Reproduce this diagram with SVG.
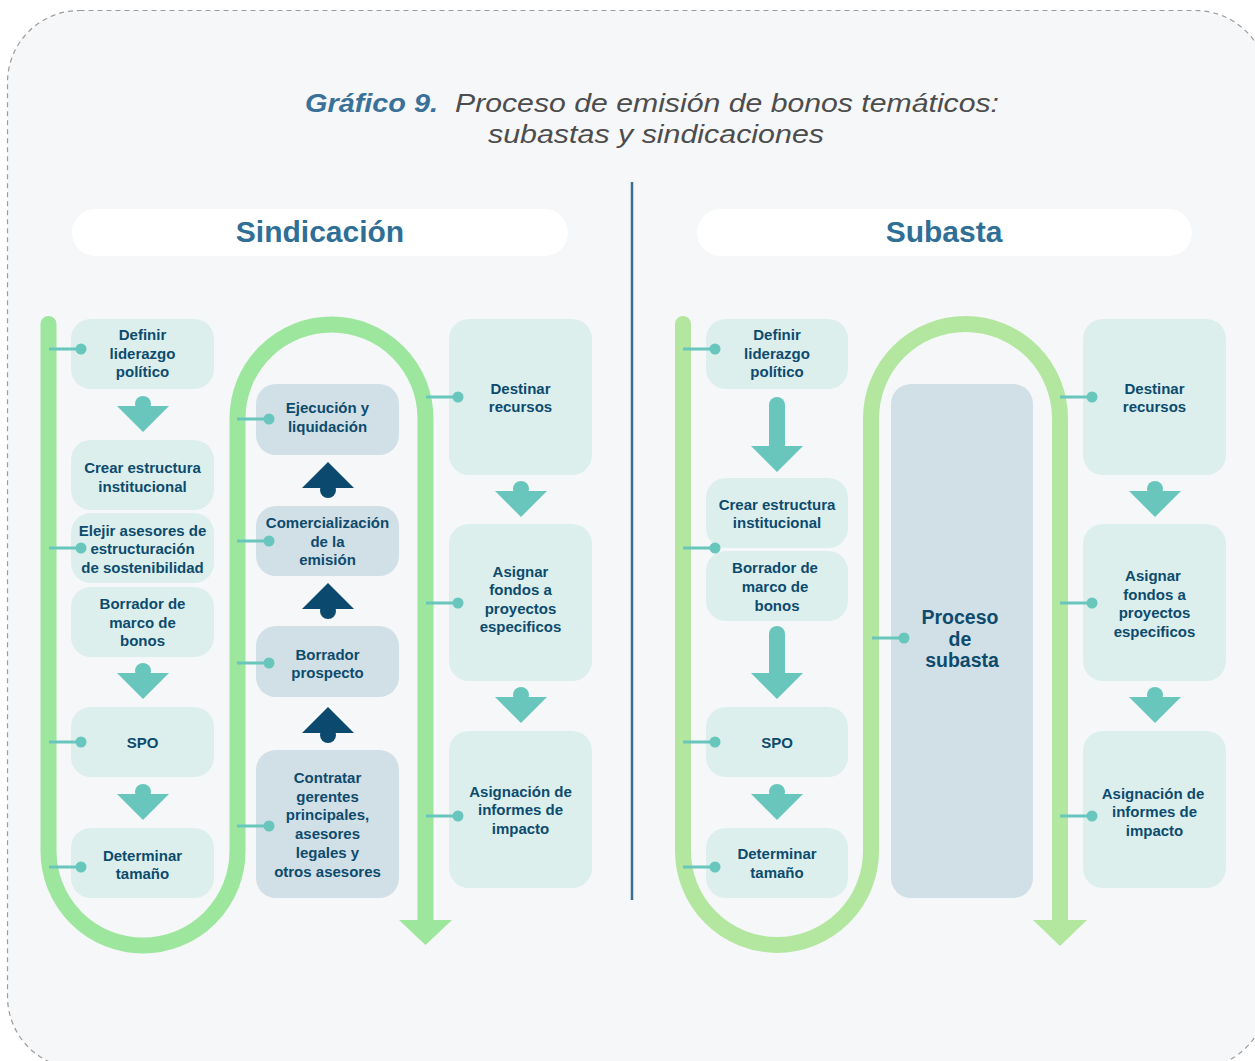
<svg xmlns="http://www.w3.org/2000/svg" xmlns:xlink="http://www.w3.org/1999/xlink" width="1255" height="1061" viewBox="0 0 1255 1061">
  <style>
    .frame { fill: #f5f7f9; stroke: #9c9c9c; stroke-width: 1.2; stroke-dasharray: 5 4; }
    .pill { fill: #ffffff; }
    .head { font-family: "Liberation Sans", Arial, sans-serif; font-weight: 700; font-size: 30px; fill: #2f6f96; text-anchor: middle; }
    .ttl { font-family: "Liberation Sans", Arial, sans-serif; font-style: italic; font-size: 26px; }
    .n1 { fill: #dcefed; }
    .n2 { fill: #d1dfe6; }
    .t { font-family: "Liberation Sans", Arial, sans-serif; font-weight: 700; font-size: 15px; fill: #0d4b6e; text-anchor: middle; }
    .big { font-size: 19.5px; }
    .trackA { fill: none; stroke: #9de69e; stroke-width: 16; stroke-linecap: round; }
    .trackB { fill: none; stroke: #b3e7a0; stroke-width: 16; stroke-linecap: round; }
    .headA { fill: #9de69e; }
    .headB { fill: #b3e7a0; }
    .conn line { stroke: #68c6bc; stroke-width: 3; }
    .conn circle { fill: #68c6bc; }
    .dn { fill: #68c6bc; }
    .up { fill: #0b4a6e; }
    .shaft { stroke: #68c6bc; stroke-width: 16; stroke-linecap: round; }
  </style>
  <defs>
    <!-- step arrow pointing down: triangle top edge at y=0 with a round nub above -->
    <g id="arrowDown"><circle cx="0" cy="-2" r="8"/><polygon points="-26,0 26,0 0,26"/></g>
    <!-- step arrow pointing up: triangle base at y=0 with a round nub below -->
    <g id="arrowUp"><circle cx="0" cy="2" r="8"/><polygon points="-26,0 26,0 0,-26"/></g>
  </defs>

  <!-- card background -->
  <rect class="frame" x="7.5" y="10.5" width="1260" height="1058" rx="72" ry="72"/>

  <!-- title -->
  <text class="ttl" x="305" y="112" font-weight="700" fill="#3a7199" textLength="133" lengthAdjust="spacingAndGlyphs">Gráfico 9.</text>
  <text class="ttl" x="455" y="112" fill="#4d4d4d" textLength="544" lengthAdjust="spacingAndGlyphs">Proceso de emisión de bonos temáticos:</text>
  <text class="ttl" x="488" y="143" fill="#4d4d4d" textLength="336" lengthAdjust="spacingAndGlyphs">subastas y sindicaciones</text>

  <!-- divider -->
  <line x1="632" y1="182" x2="632" y2="900" stroke="#3b6f95" stroke-width="2.5"/>

  <!-- section headers -->
  <g id="hdr-sindicacion">
    <rect class="pill" x="72" y="209" width="496" height="47" rx="23.5"/>
    <text class="head" x="320" y="242">Sindicación</text>
  </g>
  <g id="hdr-subasta">
    <rect class="pill" x="697" y="209" width="495" height="47" rx="23.5"/>
    <text class="head" x="944" y="242">Subasta</text>
  </g>

  <!-- Sindicación: first column -->
  <g id="s-definir">
    <rect class="n1" x="71" y="319" width="143" height="70" rx="20"/>
    <text class="t"><tspan x="142.5" y="340">Definir</tspan><tspan x="142.5" y="359">liderazgo</tspan><tspan x="142.5" y="377">político</tspan></text>
  </g>
  <g id="s-crear">
    <rect class="n1" x="71" y="440" width="143" height="70" rx="20"/>
    <text class="t"><tspan x="142.5" y="473">Crear estructura</tspan><tspan x="142.5" y="492">institucional</tspan></text>
  </g>
  <g id="s-elejir">
    <rect class="n1" x="71" y="513" width="143" height="70" rx="20"/>
    <text class="t"><tspan x="142.5" y="536">Elejir asesores de</tspan><tspan x="142.5" y="554">estructuración</tspan><tspan x="142.5" y="573">de sostenibilidad</tspan></text>
  </g>
  <g id="s-borrador-marco">
    <rect class="n1" x="71" y="587" width="143" height="70" rx="20"/>
    <text class="t"><tspan x="142.5" y="609">Borrador de</tspan><tspan x="142.5" y="628">marco de</tspan><tspan x="142.5" y="646">bonos</tspan></text>
  </g>
  <g id="s-spo">
    <rect class="n1" x="71" y="707" width="143" height="70" rx="20"/>
    <text class="t" x="142.5" y="748">SPO</text>
  </g>
  <g id="s-determinar">
    <rect class="n1" x="71" y="828" width="143" height="70" rx="20"/>
    <text class="t"><tspan x="142.5" y="861">Determinar</tspan><tspan x="142.5" y="879">tamaño</tspan></text>
  </g>

  <!-- Sindicación: second column -->
  <g id="s-ejecucion">
    <rect class="n2" x="256" y="384" width="143" height="71" rx="20"/>
    <text class="t"><tspan x="327.5" y="413">Ejecución y</tspan><tspan x="327.5" y="432">liquidación</tspan></text>
  </g>
  <g id="s-comercializacion">
    <rect class="n2" x="256" y="506" width="143" height="70" rx="20"/>
    <text class="t"><tspan x="327.5" y="528">Comercialización</tspan><tspan x="327.5" y="547">de la</tspan><tspan x="327.5" y="565">emisión</tspan></text>
  </g>
  <g id="s-prospecto">
    <rect class="n2" x="256" y="626" width="143" height="71" rx="20"/>
    <text class="t"><tspan x="327.5" y="660">Borrador</tspan><tspan x="327.5" y="678">prospecto</tspan></text>
  </g>
  <g id="s-contratar">
    <rect class="n2" x="256" y="750" width="143" height="148" rx="20"/>
    <text class="t"><tspan x="327.5" y="783">Contratar</tspan><tspan x="327.5" y="802">gerentes</tspan><tspan x="327.5" y="820">principales,</tspan><tspan x="327.5" y="839">asesores</tspan><tspan x="327.5" y="858">legales y</tspan><tspan x="327.5" y="877">otros asesores</tspan></text>
  </g>

  <!-- Sindicación: third column -->
  <g id="s-destinar">
    <rect class="n1" x="449" y="319" width="143" height="156" rx="20"/>
    <text class="t"><tspan x="520.5" y="394">Destinar</tspan><tspan x="520.5" y="412">recursos</tspan></text>
  </g>
  <g id="s-asignar">
    <rect class="n1" x="449" y="524" width="143" height="157" rx="20"/>
    <text class="t"><tspan x="520.5" y="577">Asignar</tspan><tspan x="520.5" y="595">fondos a</tspan><tspan x="520.5" y="614">proyectos</tspan><tspan x="520.5" y="632">especificos</tspan></text>
  </g>
  <g id="s-informes">
    <rect class="n1" x="449" y="731" width="143" height="157" rx="20"/>
    <text class="t"><tspan x="520.5" y="797">Asignación de</tspan><tspan x="520.5" y="815">informes de</tspan><tspan x="520.5" y="834">impacto</tspan></text>
  </g>

  <!-- Subasta: first column -->
  <g id="a-definir">
    <rect class="n1" x="706" y="319" width="142" height="70" rx="20"/>
    <text class="t"><tspan x="777" y="340">Definir</tspan><tspan x="777" y="359">liderazgo</tspan><tspan x="777" y="377">político</tspan></text>
  </g>
  <g id="a-crear">
    <rect class="n1" x="706" y="478" width="142" height="70" rx="20"/>
    <text class="t"><tspan x="777" y="510">Crear estructura</tspan><tspan x="777" y="528">institucional</tspan></text>
  </g>
  <g id="a-borrador-marco">
    <rect class="n1" x="706" y="551" width="142" height="70" rx="20"/>
    <text class="t"><tspan x="775" y="573">Borrador de</tspan><tspan x="775" y="592">marco de</tspan><tspan x="777" y="611">bonos</tspan></text>
  </g>
  <g id="a-spo">
    <rect class="n1" x="706" y="707" width="142" height="70" rx="20"/>
    <text class="t" x="777" y="748">SPO</text>
  </g>
  <g id="a-determinar">
    <rect class="n1" x="706" y="828" width="142" height="70" rx="20"/>
    <text class="t"><tspan x="777" y="859">Determinar</tspan><tspan x="777" y="878">tamaño</tspan></text>
  </g>

  <!-- Subasta: auction process -->
  <g id="a-proceso">
    <rect class="n2" x="891" y="384" width="142" height="514" rx="20"/>
    <text class="t big"><tspan x="960" y="624">Proceso</tspan><tspan x="960" y="646">de</tspan><tspan x="962" y="667">subasta</tspan></text>
  </g>

  <!-- Subasta: third column -->
  <g id="a-destinar">
    <rect class="n1" x="1083" y="319" width="143" height="156" rx="20"/>
    <text class="t"><tspan x="1154.5" y="394">Destinar</tspan><tspan x="1154.5" y="412">recursos</tspan></text>
  </g>
  <g id="a-asignar">
    <rect class="n1" x="1083" y="524" width="143" height="157" rx="20"/>
    <text class="t"><tspan x="1153" y="581">Asignar</tspan><tspan x="1154.5" y="600">fondos a</tspan><tspan x="1154.5" y="618">proyectos</tspan><tspan x="1154.5" y="637">especificos</tspan></text>
  </g>
  <g id="a-informes">
    <rect class="n1" x="1083" y="731" width="143" height="157" rx="20"/>
    <text class="t"><tspan x="1153" y="799">Asignación de</tspan><tspan x="1154.5" y="817">informes de</tspan><tspan x="1154.5" y="836">impacto</tspan></text>
  </g>

  <!-- connectors: flow tracks, step arrows and node ties (drawn last so the ties sit over the boxes) -->
  <g id="connectors">
    <path class="trackA" d="M48.5 324 L48.5 851 A94.5 94.5 0 0 0 237.5 851 L237.5 418.5 A94 94 0 0 1 425.5 418.5 L425.5 921"/>
    <polygon class="headA" points="399,920 452,920 425.5,945"/>
    <path class="trackB" d="M683 324 L683 851 A94 94 0 0 0 871 851 L871 418.5 A94.5 94.5 0 0 1 1060 418.5 L1060 921"/>
    <polygon class="headB" points="1033,920 1087,920 1060,946"/>

    <g class="dn">
      <use xlink:href="#arrowDown" x="143" y="406"/>
      <use xlink:href="#arrowDown" x="143" y="673"/>
      <use xlink:href="#arrowDown" x="143" y="794"/>
      <use xlink:href="#arrowDown" x="521" y="491"/>
      <use xlink:href="#arrowDown" x="521" y="697"/>
      <use xlink:href="#arrowDown" x="777" y="794"/>
      <use xlink:href="#arrowDown" x="1155" y="491"/>
      <use xlink:href="#arrowDown" x="1155" y="697"/>
    </g>
    <g class="up">
      <use xlink:href="#arrowUp" x="328" y="488"/>
      <use xlink:href="#arrowUp" x="328" y="609"/>
      <use xlink:href="#arrowUp" x="328" y="733"/>
    </g>
    <!-- long arrows in the auction column -->
    <line class="shaft" x1="777" y1="405" x2="777" y2="450"/>
    <polygon class="dn" points="751,446 803,446 777,472"/>
    <line class="shaft" x1="777" y1="634" x2="777" y2="677"/>
    <polygon class="dn" points="751,673 803,673 777,699"/>

    <g class="conn">
      <line x1="49" y1="349" x2="81" y2="349"/><circle cx="81" cy="349" r="5.5"/>
      <line x1="49" y1="548" x2="81" y2="548"/><circle cx="81" cy="548" r="5.5"/>
      <line x1="49" y1="742" x2="81" y2="742"/><circle cx="81" cy="742" r="5.5"/>
      <line x1="49" y1="867" x2="81" y2="867"/><circle cx="81" cy="867" r="5.5"/>
      <line x1="237" y1="419" x2="269" y2="419"/><circle cx="269" cy="419" r="5.5"/>
      <line x1="237" y1="541" x2="269" y2="541"/><circle cx="269" cy="541" r="5.5"/>
      <line x1="237" y1="663" x2="269" y2="663"/><circle cx="269" cy="663" r="5.5"/>
      <line x1="237" y1="826" x2="269" y2="826"/><circle cx="269" cy="826" r="5.5"/>
      <line x1="426" y1="397" x2="458" y2="397"/><circle cx="458" cy="397" r="5.5"/>
      <line x1="426" y1="603" x2="458" y2="603"/><circle cx="458" cy="603" r="5.5"/>
      <line x1="426" y1="816" x2="458" y2="816"/><circle cx="458" cy="816" r="5.5"/>
      <line x1="683" y1="349" x2="715" y2="349"/><circle cx="715" cy="349" r="5.5"/>
      <line x1="683" y1="548" x2="715" y2="548"/><circle cx="715" cy="548" r="5.5"/>
      <line x1="683" y1="742" x2="715" y2="742"/><circle cx="715" cy="742" r="5.5"/>
      <line x1="683" y1="867" x2="715" y2="867"/><circle cx="715" cy="867" r="5.5"/>
      <line x1="872" y1="638" x2="904" y2="638"/><circle cx="904" cy="638" r="5.5"/>
      <line x1="1060" y1="397" x2="1092" y2="397"/><circle cx="1092" cy="397" r="5.5"/>
      <line x1="1060" y1="603" x2="1092" y2="603"/><circle cx="1092" cy="603" r="5.5"/>
      <line x1="1060" y1="816" x2="1092" y2="816"/><circle cx="1092" cy="816" r="5.5"/>
    </g>
  </g>
</svg>
